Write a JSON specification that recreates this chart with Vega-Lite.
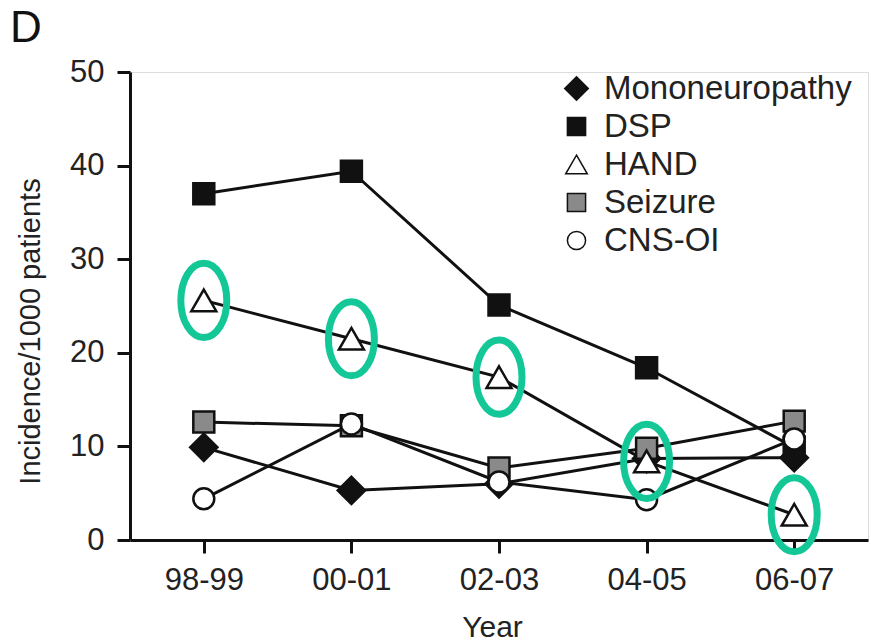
{
  "$schema": "https://vega.github.io/schema/vega-lite/v6.json",
  "width": 738,
  "height": 468,
  "autosize": {"type": "none"},
  "padding": {"left": 130, "top": 72, "right": 3, "bottom": 101},
  "background": "white",
  "title": {
    "text": "D",
    "anchor": "start",
    "frame": "group",
    "font": "Liberation Sans",
    "fontSize": 44,
    "fontWeight": "normal",
    "color": "#111111",
    "dx": -120,
    "offset": 5
  },
  "config": {
    "legend": {
      "orient": "none",
      "legendX": 430,
      "legendY": 0,
      "padding": 0,
      "labelFont": "Liberation Sans",
      "labelFontSize": 33,
      "labelColor": "#222222",
      "labelOffset": 11,
      "labelLimit": 0,
      "rowPadding": 4,
      "symbolSize": 330
    }
  },
  "data": {
    "values": [
      {"condition": "Mononeuropathy", "year": "98-99", "incidence": 9.9},
      {"condition": "Mononeuropathy", "year": "00-01", "incidence": 5.3},
      {"condition": "Mononeuropathy", "year": "02-03", "incidence": 6.0},
      {"condition": "Mononeuropathy", "year": "04-05", "incidence": 8.7},
      {"condition": "Mononeuropathy", "year": "06-07", "incidence": 8.8},
      {"condition": "DSP", "year": "98-99", "incidence": 37.0},
      {"condition": "DSP", "year": "00-01", "incidence": 39.4},
      {"condition": "DSP", "year": "02-03", "incidence": 25.1},
      {"condition": "DSP", "year": "04-05", "incidence": 18.4},
      {"condition": "DSP", "year": "06-07", "incidence": 9.9},
      {"condition": "Seizure", "year": "98-99", "incidence": 12.6},
      {"condition": "Seizure", "year": "00-01", "incidence": 12.2},
      {"condition": "Seizure", "year": "02-03", "incidence": 7.7},
      {"condition": "Seizure", "year": "04-05", "incidence": 9.8},
      {"condition": "Seizure", "year": "06-07", "incidence": 12.7},
      {"condition": "HAND", "year": "98-99", "incidence": 25.6},
      {"condition": "HAND", "year": "00-01", "incidence": 21.5},
      {"condition": "HAND", "year": "02-03", "incidence": 17.4},
      {"condition": "HAND", "year": "04-05", "incidence": 8.4},
      {"condition": "HAND", "year": "06-07", "incidence": 2.7},
      {"condition": "CNS-OI", "year": "98-99", "incidence": 4.4},
      {"condition": "CNS-OI", "year": "00-01", "incidence": 12.4},
      {"condition": "CNS-OI", "year": "02-03", "incidence": 6.2},
      {"condition": "CNS-OI", "year": "04-05", "incidence": 4.3},
      {"condition": "CNS-OI", "year": "06-07", "incidence": 10.8}
    ]
  },
  "encoding": {
    "x": {
      "field": "year",
      "type": "ordinal",
      "sort": ["98-99", "00-01", "02-03", "04-05", "06-07"],
      "scale": {"type": "point", "padding": 0.5},
      "axis": {
        "title": "Year",
        "labelAngle": 0,
        "labelFont": "Liberation Sans",
        "labelFontSize": 31,
        "labelColor": "#222222",
        "labelPadding": 12,
        "tickSize": 13,
        "tickWidth": 3,
        "tickColor": "#111111",
        "domainWidth": 3,
        "domainColor": "#111111",
        "grid": false,
        "titleFont": "Liberation Sans",
        "titleFontSize": 30,
        "titleFontWeight": "normal",
        "titleColor": "#222222",
        "titleX": 362,
        "titleY": 96,
        "titleAlign": "center",
        "titleBaseline": "alphabetic"
      }
    },
    "y": {
      "field": "incidence",
      "type": "quantitative",
      "scale": {"domain": [0, 50], "nice": false},
      "axis": {
        "title": "Incidence/1000 patients",
        "values": [0, 10, 20, 30, 40, 50],
        "labelFont": "Liberation Sans",
        "labelFontSize": 31,
        "labelColor": "#222222",
        "labelPadding": 13,
        "tickSize": 13,
        "tickWidth": 3,
        "tickColor": "#111111",
        "domainWidth": 3,
        "domainColor": "#111111",
        "grid": false,
        "titleFont": "Liberation Sans",
        "titleFontSize": 29,
        "titleFontWeight": "normal",
        "titleColor": "#222222",
        "titleAngle": -90,
        "titleX": -100,
        "titleY": 259,
        "titleAlign": "center",
        "titleBaseline": "middle"
      }
    }
  },
  "layer": [
    {
      "mark": {"type": "line", "color": "#111111", "strokeWidth": 3},
      "encoding": {"detail": {"field": "condition"}}
    },
    {
      "mark": {"type": "point", "filled": true, "opacity": 1, "stroke": "#111111", "strokeWidth": 2.5, "size": 440},
      "encoding": {
        "shape": {
          "field": "condition",
          "type": "nominal",
          "title": null,
          "scale": {
            "domain": ["Mononeuropathy", "DSP", "HAND", "Seizure", "CNS-OI"],
            "range": [
              "M-1.3,0L0,-1.3L1.3,0L0,1.3Z",
              "square",
              "M0,-1.03L1.19,1.03L-1.19,1.03Z",
              "square",
              "circle"
            ]
          },
          "legend": {
            "encode": {
              "symbols": {
                "update": {
                  "stroke": {"value": "#111111"},
                  "strokeWidth": {"value": 2.5},
                  "opacity": {"value": 1}
                }
              }
            }
          }
        },
        "fill": {
          "field": "condition",
          "type": "nominal",
          "title": null,
          "scale": {
            "domain": ["Mononeuropathy", "DSP", "HAND", "Seizure", "CNS-OI"],
            "range": ["#111111", "#111111", "#ffffff", "#8a8a8a", "#ffffff"]
          }
        }
      }
    },
    {
      "transform": [{"filter": "datum.condition === 'HAND'"}],
      "mark": {
        "type": "point",
        "shape": "M0,-1A0.62,1,0,1,1,0,1A0.62,1,0,1,1,0,-1Z",
        "filled": false,
        "opacity": 1,
        "stroke": "#14c797",
        "strokeWidth": 7,
        "size": 5500
      }
    }
  ]
}
